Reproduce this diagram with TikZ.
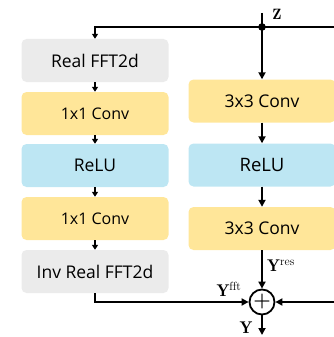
\documentclass[tikz,border=0pt]{standalone}
\usepackage{fontspec}
\setsansfont{Open Sans}
\usetikzlibrary{arrows.meta}
\definecolor{boxgray}{HTML}{EBEBEB}
\definecolor{boxyellow}{HTML}{FFE699}
\definecolor{boxblue}{HTML}{BDE6F3}
\tikzset{
  blk/.style={rounded corners=5pt, minimum width=147pt, minimum height=43pt, inner sep=0pt, font=\sffamily},
  lft/.style={blk, font=\sffamily\fontsize{17.5}{20}\selectfont},
  lftc/.style={blk, font=\sffamily\fontsize{16}{20}\selectfont},
  rgt/.style={blk, font=\sffamily\fontsize{18.5}{22}\selectfont},
  rgtc/.style={blk, font=\sffamily\fontsize{17.5}{22}\selectfont},
  conn/.style={line width=1.8pt},
  sarr/.style={conn, -{Triangle[length=5pt,width=6pt]}},
  barr/.style={conn, -{Triangle[length=7pt,width=7pt]}},
  lbl/.style={font=\fontsize{17}{19}\selectfont, inner sep=0pt}
}
\begin{document}
\begin{tikzpicture}[x=1pt,y=-1pt]
\useasboundingbox (0,0) rectangle (333,337);
% left column
\node[lft, fill=boxgray] (fft) at (95,60.5) {Real FFT2d};
\node[lftc, fill=boxyellow] (c1) at (95,113.5) {1x1 Conv};
\node[lft, fill=boxblue] (rl) at (95,165.5) {ReLU};
\node[lftc, fill=boxyellow] (c2) at (95,218.5) {1x1 Conv};
\node[lft, fill=boxgray] (ifft) at (95,271.5) {Inv Real FFT2d};
% right column
\node[rgtc, fill=boxyellow] (r1) at (262,101) {3x3 Conv};
\node[rgt, fill=boxblue] (r2) at (262,165) {ReLU};
\node[rgtc, fill=boxyellow] (r3) at (262,228.5) {3x3 Conv};
% sum
\node[circle, draw, line width=1.8pt, minimum size=25pt, inner sep=0pt, font=\bfseries\fontsize{20}{20}\selectfont] (plus) at (262,302) {+};
% coordinates
\coordinate (ztop) at (262,13);
\coordinate (zd) at (262,27);
\coordinate (zl) at (95,27);
\coordinate (zr) at (340,27);
\coordinate (rin) at (340,302);
\coordinate (yout) at (262,335);
% connectors
\draw[sarr] (zr) -- (zl) -- (fft.north);
\draw[barr] (ztop) -- (r1.north);
\fill (zd) circle (3.8pt);
\draw[sarr] (fft.south) -- (c1.north);
\draw[sarr] (c1.south) -- (rl.north);
\draw[sarr] (rl.south) -- (c2.north);
\draw[sarr] (c2.south) -- (ifft.north);
\draw[barr] (r1.south) -- (r2.north);
\draw[barr] (r2.south) -- (r3.north);
\draw[barr] (r3.south) -- (plus.north);
\draw[barr] (ifft.south) |- (plus.west);
\draw[barr] (rin) -- (plus.east);
\draw[barr] (plus.south) -- (yout);
% labels
\node[lbl, font=\fontsize{15}{16}\selectfont] (zlab) at (277,14) {$\mathbf{Z}$};
\node[lbl, anchor=west] (yres) at (267,266) {$\mathbf{Y}^{\mathrm{res}}$};
\node[lbl] (yfft) at (229,289) {$\mathbf{Y}^{\mathrm{fft}}$};
\node[lbl] (ylab) at (246,328) {$\mathbf{Y}$};
\end{tikzpicture}
\end{document}
